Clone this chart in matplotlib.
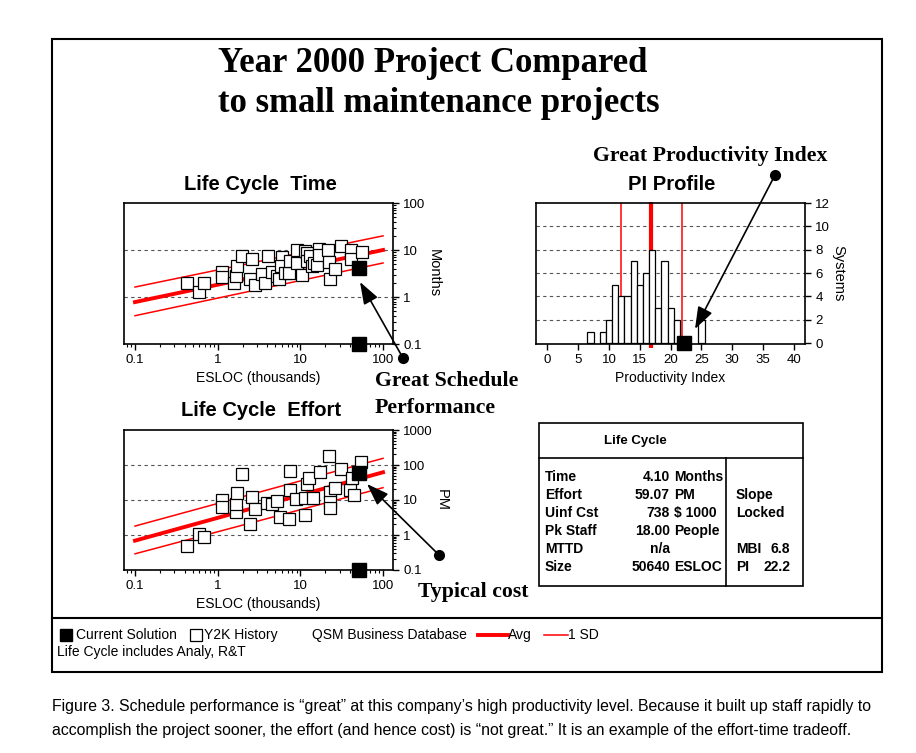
import numpy as np
import matplotlib
matplotlib.use("Agg")
import matplotlib.pyplot as plt
from matplotlib.patches import Rectangle, FancyArrowPatch
from matplotlib.lines import Line2D
from matplotlib.ticker import FixedLocator, FixedFormatter, LogLocator, NullFormatter

SANS = "Liberation Sans"
SERIF = "Liberation Serif"
plt.rcParams["font.family"] = SANS

# --- data -----------------------------------------------------------------
# Y2K history, schedule (ESLOC thousands vs months)
time_esloc = [0.42, 0.60, 0.69, 1.12, 1.12, 1.58, 1.68, 1.72, 1.98, 2.57,
              2.49, 2.83, 3.4, 3.75, 4.08, 4.55, 5.2, 5.45, 5.97, 5.85,
              6.5, 7.3, 7.5, 9.0, 9.2, 10.4, 11.5, 12.0, 12.2, 13.2,
              13.7, 14.5, 16.1, 16.6, 17.0, 21.6, 21.9, 22.9, 26.5, 31.4,
              41, 41, 55]
time_months = [1.95, 1.30, 1.95, 3.46, 2.66, 1.95, 2.84, 4.6, 7.45, 6.4,
               2.41, 1.83, 3.1, 1.96, 7.6, 3.46, 2.84, 2.41, 7.1, 4.6,
               3.2, 3.24, 5.75, 10.2, 5.3, 2.9, 9.7, 8.5, 5.75, 7.3,
               4.6, 5.2, 4.9, 10.5, 7.7, 9.8, 5.5, 2.41, 3.94, 12,
               9.8, 6.4, 8.9]

# Y2K history, effort (ESLOC thousands vs person months)
effort_esloc = [0.42, 0.60, 0.69, 1.12, 1.12, 1.65, 1.68, 1.70, 1.95, 2.48,
                2.6, 2.8, 3.9, 4.5, 5.2, 5.7, 7.2, 7.4, 7.5, 8.9,
                11.4, 11.4, 12.0, 12.6, 14.1, 17.4, 21.9, 23, 23, 23,
                26.5, 31, 40, 42, 45, 54]
effort_pm = [0.50, 1.05, 0.9, 10, 6.5, 4.6, 7.5, 15.5, 54, 2.1,
             12.4, 5.5, 8, 7.5, 9.4, 3.3, 2.9, 19, 67, 10.7,
             11.2, 3.7, 28, 43, 11.2, 62, 181, 16.6, 9, 5.8,
             22.4, 77, 19.3, 41.6, 14, 120]

# QSM business database trend lines (value at 0.1 and 100 K ESLOC)
trend_esloc = [0.1, 100]
time_avg = [0.78, 10]
time_sd_hi = [1.63, 20]
time_sd_lo = [0.40, 5.3]
effort_avg = [0.69, 62]
effort_sd_hi = [1.8, 155]
effort_sd_lo = [0.29, 22.5]

# current solution
cur_esloc = 50.64
cur_months = 4.10
cur_pm = 59.07
cur_pi = 22.2

# PI profile histogram
pi_values = [7, 9, 10, 11, 12, 13, 14, 15, 16, 17, 18, 19, 20, 21, 25]
pi_counts = [1, 1, 2, 5, 4, 4, 7, 5, 6, 8, 3, 7, 3, 2, 2]
pi_avg = 16.8
pi_sd = [12.0, 21.9]

table_rows = [("Time", "4.10", "Months"),
              ("Effort", "59.07", "PM"),
              ("Uinf Cst", "738", "$ 1000"),
              ("Pk Staff", "18.00", "People"),
              ("MTTD", "n/a", ""),
              ("Size", "50640", "ESLOC")]
table_right = [("", ""), ("Slope", ""), ("Locked", ""), ("", ""),
               ("MBI", "6.8"), ("PI", "22.2")]

W, H = 916, 753
fig = plt.figure(figsize=(W / 100, H / 100), dpi=100)


def fx(x):
    return x / W


def fy(y):
    return 1 - y / H


def box(x0, y0, x1, y1):
    return [fx(x0), fy(y1), fx(x1) - fx(x0), fy(y0) - fy(y1)]


def log_axes(rect, ymax, yticks, ylabels, ylabel):
    ax = fig.add_axes(rect)
    ax.set_xscale("log")
    ax.set_yscale("log")
    ax.set_xlim(0.0736, 132)
    ax.set_ylim(0.1, ymax)
    ax.xaxis.set_major_locator(FixedLocator([0.1, 1, 10, 100]))
    ax.xaxis.set_major_formatter(FixedFormatter(["0.1", "1", "10", "100"]))
    ax.xaxis.set_minor_locator(LogLocator(base=10, subs=range(2, 10)))
    ax.xaxis.set_minor_formatter(NullFormatter())
    ax.yaxis.tick_right()
    ax.yaxis.set_label_position("right")
    ax.yaxis.set_major_locator(FixedLocator(yticks))
    ax.yaxis.set_major_formatter(FixedFormatter(ylabels))
    ax.yaxis.set_minor_locator(LogLocator(base=10, subs=range(2, 10)))
    ax.yaxis.set_minor_formatter(NullFormatter())
    ax.tick_params(which="major", direction="out", length=4, width=1, labelsize=9.5)
    ax.tick_params(which="minor", direction="out", length=2.5, width=0.8)
    for t in yticks[1:-1]:
        ax.axhline(t, color="#555555", lw=0.8, ls=(0, (3, 3)), zorder=0)
    ax.set_xlabel("ESLOC (thousands)", fontsize=10, labelpad=3)
    ax.set_ylabel(ylabel, fontsize=10.5, rotation=270, labelpad=11)
    for s in ax.spines.values():
        s.set_linewidth(1.2)
    return ax


# --- schedule panel --------------------------------------------------------
ax1 = log_axes(box(124, 203, 393, 344), 100, [0.1, 1, 10, 100],
               ["0.1", "1", "10", "100"], "Months")
ax1.plot(trend_esloc, time_sd_hi, color="red", lw=1.1, zorder=1)
ax1.plot(trend_esloc, time_sd_lo, color="red", lw=1.1, zorder=1)
ax1.plot(trend_esloc, time_avg, color="red", lw=2.8, zorder=1)
ax1.plot(time_esloc, time_months, ls="none", marker="s", ms=8.2, mfc="white",
         mec="black", mew=0.9, zorder=2)
ax1.plot([cur_esloc], [cur_months], ls="none", marker="s", ms=9.5, color="black", zorder=3)
ax1.plot([cur_esloc], [0.1], ls="none", marker="s", ms=9.5, color="black",
         zorder=3, clip_on=False)
fig.text(fx(260), fy(184), "Life Cycle  Time", ha="center", va="center",
         fontsize=14.5, fontweight="bold")

# --- effort panel ----------------------------------------------------------
ax2 = log_axes(box(124, 430, 393, 570), 1000, [0.1, 1, 10, 100, 1000],
               ["0.1", "1", "10", "100", "1000"], "PM")
ax2.plot(trend_esloc, effort_sd_hi, color="red", lw=1.1, zorder=1)
ax2.plot(trend_esloc, effort_sd_lo, color="red", lw=1.1, zorder=1)
ax2.plot(trend_esloc, effort_avg, color="red", lw=2.8, zorder=1)
ax2.plot(effort_esloc, effort_pm, ls="none", marker="s", ms=8.2, mfc="white",
         mec="black", mew=0.9, zorder=2)
ax2.plot([cur_esloc], [cur_pm], ls="none", marker="s", ms=9.5, color="black", zorder=3)
ax2.plot([cur_esloc], [0.1], ls="none", marker="s", ms=9.5, color="black",
         zorder=3, clip_on=False)
fig.text(fx(261), fy(411), "Life Cycle  Effort", ha="center", va="center",
         fontsize=14.5, fontweight="bold")

# --- PI profile --------------------------------------------------------------
ax3 = fig.add_axes(box(536, 203, 805, 344))
ax3.set_xlim(-1.84, 41.8)
ax3.set_ylim(-0.07, 12)
for t in range(2, 12, 2):
    ax3.axhline(t, color="#555555", lw=0.8, ls=(0, (3, 3)), zorder=0)
ax3.axvline(pi_sd[0], color="red", lw=1.1, zorder=1)
ax3.axvline(pi_sd[1], color="red", lw=1.1, zorder=1)
ax3.plot([pi_avg, pi_avg], [-0.4, 12.1], color="red", lw=3, zorder=1,
         solid_capstyle="butt", clip_on=False)
ax3.bar(pi_values, pi_counts, width=1, color="white", edgecolor="black",
        lw=0.9, zorder=2)
ax3.plot([cur_pi], [0], ls="none", marker="s", ms=10, color="black",
         zorder=3, clip_on=False)
ax3.set_xticks(range(0, 41, 5))
ax3.yaxis.tick_right()
ax3.yaxis.set_label_position("right")
ax3.set_yticks(range(0, 13, 2))
ax3.tick_params(direction="out", length=4, width=1, labelsize=9.5)
ax3.set_xlabel("Productivity Index", fontsize=10, labelpad=3)
ax3.set_ylabel("Systems", fontsize=10.5, rotation=270, labelpad=11)
for s in ax3.spines.values():
    s.set_linewidth(1.2)
fig.text(fx(672), fy(184), "PI Profile", ha="center", va="center",
         fontsize=14.5, fontweight="bold")

# --- main title and callouts -------------------------------------------------
fig.text(fx(218), fy(64), "Year 2000 Project Compared", ha="left", va="center",
         family=SERIF, fontweight="bold", fontsize=25)
fig.text(fx(218), fy(104), "to small maintenance projects", ha="left", va="center",
         family=SERIF, fontweight="bold", fontsize=25)
fig.text(fx(593), fy(156), "Great Productivity Index", ha="left", va="center",
         family=SERIF, fontweight="bold", fontsize=15.7)
fig.text(fx(375), fy(381), "Great Schedule", ha="left", va="center",
         family=SERIF, fontweight="bold", fontsize=15.7)
fig.text(fx(375), fy(408), "Performance", ha="left", va="center",
         family=SERIF, fontweight="bold", fontsize=15.7)
fig.text(fx(418), fy(592), "Typical cost", ha="left", va="center",
         family=SERIF, fontweight="bold", fontsize=15.7)

callouts = [((403, 358), (360, 282)),
            ((439, 555), (367, 484)),
            ((775, 175), (695, 329))]
for (tx, ty), (hx, hy) in callouts:
    fig.add_artist(FancyArrowPatch((fx(tx), fy(ty)), (fx(hx), fy(hy)),
                                   transform=fig.transFigure,
                                   arrowstyle="-|>,head_length=0.9,head_width=0.32",
                                   mutation_scale=15, lw=1.2, color="black",
                                   shrinkA=0, shrinkB=0, zorder=10))
    fig.add_artist(Line2D([fx(tx)], [fy(ty)], marker="o", ms=7, color="black",
                          transform=fig.transFigure, zorder=11))

# --- summary table -----------------------------------------------------------
fig.add_artist(Rectangle((fx(539), fy(586)), fx(803) - fx(539), fy(423) - fy(586),
                         transform=fig.transFigure, fill=False, lw=1.2, ec="black"))
fig.add_artist(Line2D([fx(539), fx(803)], [fy(458), fy(458)], color="black", lw=1.2,
                      transform=fig.transFigure))
fig.add_artist(Line2D([fx(726), fx(726)], [fy(458), fy(586)], color="black", lw=1.2,
                      transform=fig.transFigure))
fig.text(fx(635), fy(441), "Life Cycle", ha="center", va="center",
         fontsize=9.5, fontweight="bold")
for i, (name, val, unit) in enumerate(table_rows):
    y = fy(477 + 18 * i)
    fig.text(fx(545), y, name, ha="left", va="center", fontsize=10, fontweight="bold")
    fig.text(fx(670), y, val, ha="right", va="center", fontsize=10, fontweight="bold")
    fig.text(fx(674), y, unit, ha="left", va="center", fontsize=10, fontweight="bold")
    rname, rval = table_right[i]
    fig.text(fx(736), y, rname, ha="left", va="center", fontsize=10, fontweight="bold")
    fig.text(fx(790), y, rval, ha="right", va="center", fontsize=10, fontweight="bold")

# --- frame, legend and caption -------------------------------------------------
fig.add_artist(Rectangle((fx(52), fy(672)), fx(882) - fx(52), fy(39) - fy(672),
                         transform=fig.transFigure, fill=False, lw=1.5, ec="black"))
fig.add_artist(Line2D([fx(52), fx(882)], [fy(618), fy(618)], color="black", lw=1.5,
                      transform=fig.transFigure))

ly = fy(635)
fig.add_artist(Line2D([fx(66)], [ly], marker="s", ms=8, color="black",
                      transform=fig.transFigure))
fig.text(fx(76), ly, "Current Solution", ha="left", va="center", fontsize=10)
fig.add_artist(Line2D([fx(196)], [ly], marker="s", ms=8, mfc="white", mec="black",
                      mew=0.9, transform=fig.transFigure))
fig.text(fx(204), ly, "Y2K History", ha="left", va="center", fontsize=10)
fig.text(fx(312), ly, "QSM Business Database", ha="left", va="center", fontsize=10)
fig.add_artist(Line2D([fx(478), fx(508)], [ly, ly], color="red", lw=2.8,
                      transform=fig.transFigure))
fig.text(fx(508), ly, "Avg", ha="left", va="center", fontsize=10)
fig.add_artist(Line2D([fx(544), fx(568)], [ly, ly], color="red", lw=1.1,
                      transform=fig.transFigure))
fig.text(fx(568), ly, "1 SD", ha="left", va="center", fontsize=10)
fig.text(fx(57), fy(652), "Life Cycle includes Analy, R&T", ha="left", va="center",
         fontsize=10)

fig.text(fx(52), fy(707),
         "Figure 3. Schedule performance is \u201cgreat\u201d at this company\u2019s high "
         "productivity level. Because it built up staff rapidly to",
         ha="left", va="center", fontsize=11.4)
fig.text(fx(52), fy(731),
         "accomplish the project sooner, the effort (and hence cost) is \u201cnot great.\u201d "
         "It is an example of the effort-time tradeoff.",
         ha="left", va="center", fontsize=11.4)

fig.savefig("out.png", dpi=100)
